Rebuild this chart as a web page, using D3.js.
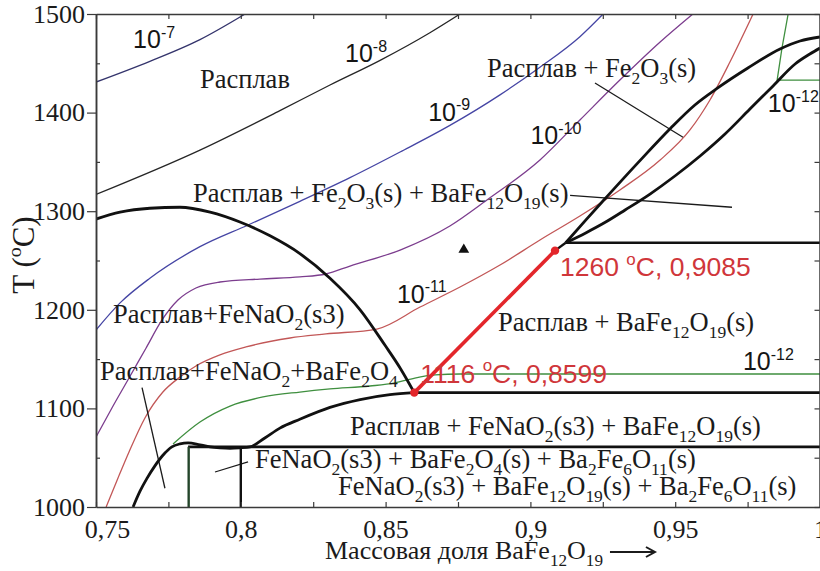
<!DOCTYPE html>
<html lang="ru">
<head>
<meta charset="utf-8">
<title>Фазовая диаграмма</title>
<script src="https://cdn.jsdelivr.net/npm/d3@7/dist/d3.min.js"></script>
<style>
  html, body { margin: 0; padding: 0; background: #fff; overflow: hidden; }
  svg { display: block; }
  text { white-space: pre; }
</style>
</head>
<body>
<svg id="chart" width="820" height="571"></svg>
<script>
// ---------- axes ----------
const xTickValues = [0.75, 0.8, 0.85, 0.9, 0.95, 1.0];
const xTickLabels = ["0,75", "0,8", "0,85", "0,9", "0,95", "1"];
const yTickValues = [1000, 1100, 1200, 1300, 1400, 1500];
const yTickLabels = ["1000", "1100", "1200", "1300", "1400", "1500"];
const xMinorTicks = [0.75, 0.775, 0.8, 0.825, 0.85, 0.875, 0.9, 0.925, 0.95, 0.975, 1.0];
const yMinorTicks = [1050, 1150, 1250, 1350, 1450];
const yRightTicks = [1000, 1050, 1100, 1150, 1200, 1250, 1300, 1350, 1400, 1450, 1500];

// ---------- phase boundaries: [mass fraction BaFe12O19, T, °C] ----------
const liquidusFeNaO2 = [[0.75, 1292], [0.7583, 1299], [0.7686, 1303], [0.779, 1304], [0.7894, 1299],
  [0.7997, 1289], [0.8101, 1275], [0.8204, 1257], [0.8308, 1232], [0.8412, 1200], [0.8498, 1164],
  [0.855, 1141], [0.8599, 1116]];
const liquidusLow = [[0.7628, 1000], [0.7652, 1016], [0.7676, 1029], [0.7704, 1042], [0.7731, 1052.5],
  [0.7762, 1061], [0.779, 1064], [0.7818, 1065], [0.7859, 1063], [0.7894, 1061], [0.7928, 1060],
  [0.7963, 1059.5], [0.7997, 1060], [0.8032, 1061], [0.8083, 1070], [0.8135, 1080], [0.8204, 1089],
  [0.8308, 1101], [0.8412, 1109], [0.8515, 1114], [0.8599, 1116]];
const solidus1061 = [[0.7818, 1061], [1.0, 1061]];
const eutectic1116 = [[0.8599, 1116], [1.0, 1116]];
const peritectic1268 = [[0.9122, 1268], [1.0, 1268]];
const tieLeft = [[0.782, 1000], [0.782, 1061]];
const tieRight = [[0.8, 1000], [0.8, 1061]];
const peritecticLink = [[0.9085, 1260], [0.9122, 1268]];
const liquidusFe2O3 = [[0.9122, 1268], [0.9191, 1291], [0.926, 1313.4], [0.9371, 1349], [0.9485, 1384.4],
  [0.9568, 1407.7], [0.9647, 1425], [0.9751, 1445.2], [0.9862, 1464.5], [0.9931, 1472.6], [1.0, 1476.7]];
const boundaryFe2O3 = [[0.9122, 1268], [0.9191, 1278], [0.926, 1289], [0.9327, 1301.2], [0.9413, 1317.4],
  [0.9499, 1335.7], [0.9586, 1356], [0.9672, 1378.3], [0.9758, 1403.6], [0.9838, 1427], [0.9914, 1449.3],
  [0.9965, 1459.4], [1.0, 1465.5]];

// invariant points (composition, T)
const eutecticPoint = [0.8599, 1116];
const peritecticPoint = [0.9085, 1260];
const sampleMark = [0.877, 1261];

// ---------- oxygen isobars, pO2 ----------
const isobar7 = [[0.75, 1431], [0.7686, 1452], [0.7859, 1474], [0.8015, 1500]];
const isobar8 = [[0.75, 1317], [0.7859, 1362], [0.8135, 1402], [0.8308, 1428], [0.8481, 1453],
  [0.8653, 1481], [0.8757, 1500]];
const isobar9 = [[0.75, 1179.5], [0.7583, 1207], [0.7686, 1232], [0.7859, 1264], [0.8025, 1286],
  [0.8204, 1310], [0.8377, 1334], [0.855, 1360], [0.8722, 1387], [0.8895, 1418], [0.9033, 1446],
  [0.9171, 1477], [0.9251, 1500]];
const isobar10 = [[0.75, 1071], [0.7555, 1100.4], [0.7614, 1130.8], [0.7673, 1161.3], [0.7728, 1189.7],
  [0.7783, 1209.9], [0.7845, 1222.1], [0.7928, 1228.2], [0.8066, 1231.2], [0.8204, 1233.3],
  [0.8294, 1236.3], [0.8377, 1244.4], [0.855, 1260.6], [0.8722, 1285], [0.885, 1311.4], [0.9033, 1352],
  [0.9171, 1392.5], [0.9309, 1433], [0.9448, 1471.6], [0.9561, 1500]];
const isobar11 = [[0.7535, 1000], [0.7576, 1029.4], [0.7614, 1055.8], [0.7669, 1090.3], [0.7731, 1116.6],
  [0.779, 1131.8], [0.7845, 1143], [0.7928, 1154.2], [0.8018, 1162.3], [0.817, 1171.4], [0.8294, 1175.5],
  [0.847, 1180.5], [0.8619, 1202.8], [0.8757, 1223.1], [0.8895, 1245.4], [0.9033, 1270.8], [0.9171, 1295.1],
  [0.9309, 1321.5], [0.9448, 1351.9], [0.9551, 1382.4], [0.962, 1412.8], [0.9689, 1451.3], [0.9769, 1500]];
const isobar12 = [[0.7766, 1064], [0.7859, 1086.2], [0.7963, 1102.4], [0.8077, 1111.6], [0.8204, 1116.6],
  [0.8308, 1119.7], [0.8446, 1122.7], [0.8532, 1125.8], [0.8601, 1130.8], [0.8671, 1133.9],
  [0.8757, 1134.9], [1.0, 1134.9]];
const isobar12High = [[0.989, 1500], [0.9869, 1466], [0.9852, 1433], [1.0, 1433]];

// leader lines from phase-field captions into their fields
const leaders = [
  [[0.9223, 1430], [0.9527, 1375]],
  [[0.9137, 1316], [0.9696, 1304]],
  [[0.7659, 1121], [0.7738, 1019]],
  [[0.7911, 1035.5], [0.8025, 1045.7]]
];

// ---------- drawing ----------
const svg = d3.select("#chart");
const x = d3.scaleLinear().domain([0.75, 1.0]).range([96, 820]);
const y = d3.scaleLinear().domain([1000, 1500]).range([507, 14]);

const SERIF = "'Liberation Serif', 'Times New Roman', serif";
const SANS = "'Liberation Sans', Arial, sans-serif";
const INK = "#1b1b1b";

svg.append("defs").append("clipPath").attr("id", "plot")
  .append("rect").attr("x", x(0.75)).attr("y", y(1500))
  .attr("width", x(1.0) - x(0.75)).attr("height", y(1000) - y(1500));

const plot = svg.append("g").attr("clip-path", "url(#plot)");

const smooth = d3.line().x(d => x(d[0])).y(d => y(d[1])).curve(d3.curveMonotoneX);
const straight = d3.line().x(d => x(d[0])).y(d => y(d[1]));

// oxygen isobars
const isobars = [
  { pts: isobar7, color: "#34346c", gen: smooth },
  { pts: isobar8, color: "#262626", gen: smooth },
  { pts: isobar9, color: "#4545a4", gen: smooth },
  { pts: isobar10, color: "#7c3d8e", gen: smooth },
  { pts: isobar11, color: "#c25757", gen: smooth },
  { pts: isobar12, color: "#3f8f3f", gen: smooth },
  { pts: isobar12High, color: "#3f8f3f", gen: straight }
];
plot.selectAll("path.isobar").data(isobars).join("path")
  .attr("class", "isobar")
  .attr("d", d => d.gen(d.pts))
  .attr("fill", "none").attr("stroke", d => d.color).attr("stroke-width", 1.3);

// leader lines
plot.selectAll("path.leader").data(leaders).join("path")
  .attr("class", "leader")
  .attr("d", straight)
  .attr("fill", "none").attr("stroke", INK).attr("stroke-width", 1.3);

// phase boundaries
const boundaries = [
  { pts: liquidusFeNaO2, gen: smooth, color: "#111", w: 2.8 },
  { pts: liquidusLow, gen: smooth, color: "#111", w: 2.8 },
  { pts: solidus1061, gen: straight, color: "#111", w: 2.6 },
  { pts: eutectic1116, gen: straight, color: "#111", w: 2.6 },
  { pts: peritectic1268, gen: straight, color: "#111", w: 2.6 },
  { pts: tieLeft, gen: straight, color: "#24452a", w: 2.4 },
  { pts: tieRight, gen: straight, color: "#111", w: 2.4 },
  { pts: peritecticLink, gen: straight, color: "#111", w: 2.4 },
  { pts: liquidusFe2O3, gen: smooth, color: "#111", w: 2.8 },
  { pts: boundaryFe2O3, gen: smooth, color: "#111", w: 2.8 }
];
plot.selectAll("path.boundary").data(boundaries).join("path")
  .attr("class", "boundary")
  .attr("d", d => d.gen(d.pts))
  .attr("fill", "none").attr("stroke", d => d.color)
  .attr("stroke-width", d => d.w).attr("stroke-linejoin", "round");

// BaFe12O19 liquidus segment between the invariant points
const RED = "#e3262b";
plot.append("path").attr("d", straight([eutecticPoint, peritecticPoint]))
  .attr("stroke", RED).attr("stroke-width", 3.6).attr("fill", "none");
plot.selectAll("circle.inv").data([eutecticPoint, peritecticPoint]).join("circle")
  .attr("class", "inv")
  .attr("cx", d => x(d[0])).attr("cy", d => y(d[1])).attr("r", 4.2).attr("fill", RED);

plot.append("path")
  .attr("d", d3.symbol(d3.symbolTriangle, 50)())
  .attr("transform", `translate(${x(sampleMark[0])},${y(sampleMark[1])})`)
  .attr("fill", "#111");

// ---------- axes ----------
const AX = "#3a3a3a";
function styleAxis(g) {
  g.selectAll(".domain").attr("stroke", AX).attr("stroke-width", 1.5);
  g.selectAll(".tick line").attr("stroke", AX).attr("stroke-width", 1.2);
  g.selectAll("text").attr("font-family", SERIF).attr("font-size", 26).attr("fill", INK);
}

svg.append("g").attr("transform", `translate(0,${y(1000)})`)
  .call(d3.axisBottom(x).tickValues(xMinorTicks).tickSize(-5).tickSizeOuter(0).tickFormat(""))
  .call(styleAxis);
const gxLab = svg.append("g").attr("transform", `translate(0,${y(1000)})`)
  .call(d3.axisBottom(x).tickValues(xTickValues).tickSize(0).tickPadding(13)
    .tickFormat((d, i) => xTickLabels[i]))
  .call(styleAxis);
gxLab.select(".domain").remove();
// keep the first composition label clear of the temperature labels
gxLab.selectAll(".tick text").filter((d, i) => i === 0).attr("dx", 11);

svg.append("g").attr("transform", `translate(0,${y(1500)})`)
  .call(d3.axisTop(x).tickValues(xMinorTicks).tickSize(-5).tickSizeOuter(0).tickFormat(""))
  .call(styleAxis);

svg.append("g").attr("transform", `translate(${x(0.75)},0)`)
  .call(d3.axisLeft(y).tickValues(yTickValues).tickSize(9).tickSizeOuter(0).tickPadding(2)
    .tickFormat((d, i) => yTickLabels[i]))
  .call(styleAxis);
svg.append("g").attr("transform", `translate(${x(0.75)},0)`)
  .call(d3.axisLeft(y).tickValues(yMinorTicks).tickSize(-4).tickSizeOuter(0).tickFormat(""))
  .call(styleAxis);
svg.append("g").attr("transform", `translate(${x(1.0) - 0.5},0)`)
  .call(d3.axisRight(y).tickValues(yRightTicks).tickSize(-5).tickSizeOuter(0).tickFormat(""))
  .call(styleAxis);

// ---------- text with sub/superscripts: _{..} and ^{..} ----------
function richText(parent, markup, px, py, family, size, fill, subScale = 0.66) {
  const t = parent.append("text").attr("x", px).attr("y", py)
    .attr("font-family", family).attr("font-size", size).attr("fill", fill);
  const re = /([_^])\{([^}]*)\}|([^_^]+)/g;
  let m, cur = 0;
  while ((m = re.exec(markup)) !== null) {
    let target = 0, fs = size, str = m[3];
    if (m[1] === "_") { target = size * 0.27; fs = size * subScale; str = m[2]; }
    if (m[1] === "^") { target = -size * 0.42; fs = size * 0.64; str = m[2]; }
    t.append("tspan").attr("dy", target - cur).attr("font-size", fs).text(str);
    cur = target;
  }
  return t;
}

const fieldLabels = [
  { s: "Расплав", at: [0.7859, 1425] },
  { s: "Расплав + Fe_{2}O_{3}(s)", at: [0.885, 1436] },
  { s: "Расплав + Fe_{2}O_{3}(s) + BaFe_{12}O_{19}(s)", at: [0.7835, 1309.5] },
  { s: "Расплав+FeNaO_{2}(s3)", at: [0.7559, 1186.6] },
  { s: "Расплав+FeNaO_{2}+BaFe_{2}O_{4}", at: [0.7514, 1128.8] },
  { s: "Расплав + BaFe_{12}O_{19}(s)", at: [0.8888, 1178.5] },
  { s: "Расплав + FeNaO_{2}(s3) + BaFe_{12}O_{19}(s)", at: [0.8377, 1073] },
  { s: "FeNaO_{2}(s3) + BaFe_{2}O_{4}(s) + Ba_{2}Fe_{6}O_{11}(s)", at: [0.8049, 1039.6] },
  { s: "FeNaO_{2}(s3) + BaFe_{12}O_{19}(s) + Ba_{2}Fe_{6}O_{11}(s)", at: [0.8336, 1012.2] }
];
fieldLabels.forEach(l => richText(svg, l.s, x(l.at[0]), y(l.at[1]), SERIF, 26.5, INK));

const isobarLabels = [
  { s: "10^{-7}", at: [0.7628, 1465.5] },
  { s: "10^{-8}", at: [0.836, 1451.3] },
  { s: "10^{-9}", at: [0.8647, 1391.5] },
  { s: "10^{-10}", at: [0.9, 1368] },
  { s: "10^{-11}", at: [0.8539, 1206.9] },
  { s: "10^{-12}", at: [0.9734, 1138.9] },
  { s: "10^{-12}", at: [0.982, 1400.6] }
];
isobarLabels.forEach(l => richText(svg, l.s, x(l.at[0]), y(l.at[1]), SANS, 25, "#151515"));

// invariant-point captions, written from the point values
const fmt = v => String(v).replace(".", ",");
richText(svg, `${eutecticPoint[1]} ^{o}C, ${fmt(eutecticPoint[0])}`,
  x(eutecticPoint[0]) + 6, y(eutecticPoint[1]) - 10, SANS, 26.5, "#d0363a");
richText(svg, `${peritecticPoint[1]} ^{o}C, ${fmt(peritecticPoint[0])}`,
  x(peritecticPoint[0]) + 5, y(peritecticPoint[1]) + 25, SANS, 26.5, "#d0363a");

// axis titles
const xTitle = richText(svg, "Массовая доля BaFe_{12}O_{19}", 325, 559, SERIF, 26, INK);
const tEnd = 325 + xTitle.node().getComputedTextLength();
svg.append("path")
  .attr("d", `M${tEnd + 7},552 H${tEnd + 52} M${tEnd + 43},547 L${tEnd + 52},552 L${tEnd + 43},557`)
  .attr("fill", "none").attr("stroke", INK).attr("stroke-width", 2);

const yTitle = svg.append("g").attr("transform", "translate(34,255) rotate(-90)");
richText(yTitle, "T (^{o}C)", 0, 0, SERIF, 31, INK).attr("text-anchor", "middle");
</script>
</body>
</html>
